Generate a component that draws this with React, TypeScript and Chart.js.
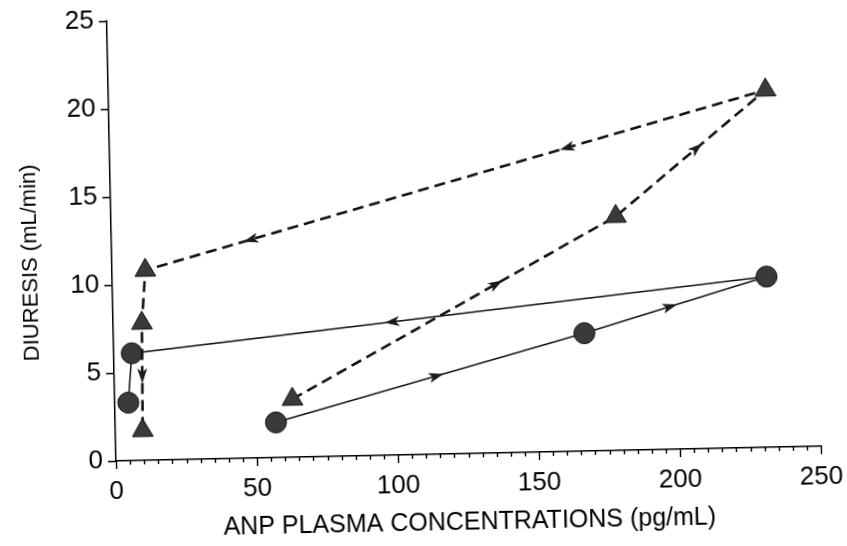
import React, { useEffect, useRef } from 'react';
import { Chart, registerables } from 'chart.js';

Chart.register(...registerables);

// ANP plasma concentration (pg/mL) and diuresis (mL/min)
const TRI_ANP = [63, 179, 233, 11.8, 10.2, 9.7];
const TRI_DIURESIS = [3.3, 13.3, 20.3, 10.8, 7.8, 1.7];
const CIRCLE_ANP = [57, 167, 232, 6.4, 4.8];
const CIRCLE_DIURESIS = [2.0, 6.7, 9.7, 6.1, 3.3];

// direction arrows: [segment index, fraction along segment]
const TRI_ARROWS = [[0, 0.63], [1, 0.54], [2, 0.32], [2, 0.83], [4, 0.49]];
const CIRCLE_ARROWS = [[0, 0.52], [1, 0.47], [2, 0.59]];

const X_MIN = 0;
const X_MAX = 250;
const X_STEP = 50;
const X_MINOR = 5;
const Y_MIN = 0;
const Y_MAX = 25;
const Y_STEP = 5;

const X_TITLE = 'ANP PLASMA CONCENTRATIONS (pg/mL)';
const Y_TITLE = 'DIURESIS (mL/min)';

const FONT = "'Liberation Sans', Arial, Helvetica, sans-serif";

const ARROWS_BY_DATASET = [TRI_ARROWS, CIRCLE_ARROWS];

const arrowPlugin = {
  id: 'dirArrows',
  afterDatasetsDraw(chart: any) {
    const ctx = chart.ctx;
    ctx.save();
    ctx.fillStyle = '#1a1a1a';
    ctx.strokeStyle = '#1a1a1a';
    ctx.lineWidth = 1;
    ARROWS_BY_DATASET.forEach((list, di) => {
      const meta = chart.getDatasetMeta(di);
      list.forEach(([s, t]) => {
        const a = meta.data[s];
        const b = meta.data[s + 1];
        if (!a || !b) return;
        const px = a.x + (b.x - a.x) * t;
        const py = a.y + (b.y - a.y) * t;
        const ang = Math.atan2(b.y - a.y, b.x - a.x);
        ctx.save();
        ctx.translate(px, py);
        ctx.rotate(ang);
        ctx.beginPath();
        ctx.moveTo(6, 0);
        ctx.lineTo(-6, -4);
        ctx.lineTo(-3, 0);
        ctx.lineTo(-6, 4);
        ctx.closePath();
        ctx.fill();
        ctx.stroke();
        ctx.restore();
      });
    });
    ctx.restore();
  },
};

const axisDecorPlugin = {
  id: 'axisDecor',
  afterDraw(chart: any) {
    const ctx = chart.ctx;
    const xs = chart.scales.x;
    const ys = chart.scales.y;
    ctx.save();
    ctx.strokeStyle = '#000';
    ctx.lineWidth = 1.4;
    ctx.beginPath();
    for (let v = X_MIN; v <= X_MAX; v += X_MINOR) {
      const px = Math.round(xs.getPixelForValue(v)) + 0.5;
      const len = v % X_STEP === 0 ? 8 : 4;
      ctx.moveTo(px, ys.bottom);
      ctx.lineTo(px, ys.bottom + len);
    }
    for (let v = Y_MIN; v <= Y_MAX; v += Y_STEP) {
      const py = Math.round(ys.getPixelForValue(v)) + 0.5;
      ctx.moveTo(xs.left - 8, py);
      ctx.lineTo(xs.left, py);
    }
    ctx.stroke();
    // vertical axis title
    ctx.fillStyle = '#000';
    ctx.font = `22px ${FONT}`;
    ctx.textAlign = 'center';
    ctx.textBaseline = 'middle';
    ctx.translate(35, 261);
    ctx.rotate(-Math.PI / 2);
    ctx.fillText(Y_TITLE, 0, 0);
    ctx.restore();
  },
};

export default function App() {
  const ref = useRef<HTMLCanvasElement>(null);

  useEffect(() => {
    if (!ref.current) return;
    Chart.defaults.color = '#000';
    Chart.defaults.font.family = FONT;
    const triData = TRI_ANP.map((x, i) => ({ x, y: TRI_DIURESIS[i] }));
    const circleData = CIRCLE_ANP.map((x, i) => ({ x, y: CIRCLE_DIURESIS[i] }));
    const hiddenTicks = (len: number) => ({
      display: true,
      drawOnChartArea: false,
      drawTicks: true,
      tickLength: len,
      tickColor: 'rgba(0,0,0,0)',
      color: 'rgba(0,0,0,0)',
    });
    const chart = new Chart(ref.current, {
      type: 'scatter',
      data: {
        datasets: [
          {
            label: 'Triangles',
            data: triData,
            showLine: true,
            borderColor: '#111',
            borderWidth: 2.6,
            borderDash: [11, 6],
            pointStyle: 'triangle',
            pointRadius: 12,
            pointBorderWidth: 1,
            pointBorderColor: '#111',
            pointBackgroundColor: '#3a3a3a',
            clip: false,
          },
          {
            label: 'Circles',
            data: circleData,
            showLine: true,
            borderColor: '#111',
            borderWidth: 1.5,
            pointStyle: 'circle',
            pointRadius: 10.5,
            pointBorderWidth: 1,
            pointBorderColor: '#111',
            pointBackgroundColor: '#3a3a3a',
            clip: false,
          },
        ],
      },
      options: {
        animation: false,
        responsive: false,
        devicePixelRatio: 1,
        layout: { padding: { top: 21, right: 26, bottom: 0, left: 0 } },
        plugins: {
          legend: { display: false },
          tooltip: { enabled: false },
        },
        scales: {
          x: {
            type: 'linear',
            min: X_MIN,
            max: X_MAX,
            afterFit: (s: any) => {
              s.height = 85;
            },
            grid: hiddenTicks(15),
            border: { display: true, color: '#000', width: 1.5 },
            ticks: { stepSize: X_STEP, padding: 0, color: '#000', font: { size: 26 } },
            title: {
              display: true,
              text: X_TITLE,
              color: '#000',
              font: { size: 25 },
              padding: { top: 0, bottom: 1 },
            },
          },
          y: {
            type: 'linear',
            min: Y_MIN,
            max: Y_MAX,
            afterFit: (s: any) => {
              s.width = 116;
            },
            grid: hiddenTicks(13),
            border: { display: true, color: '#000', width: 1.5 },
            ticks: { stepSize: Y_STEP, padding: 0, color: '#000', font: { size: 26 } },
          },
        },
      },
      plugins: [arrowPlugin, axisDecorPlugin],
    } as any);
    return () => chart.destroy();
  }, []);

  return (
    <div
      style={{
        position: 'fixed',
        left: 0,
        top: 0,
        width: 847,
        height: 546,
        overflow: 'hidden',
        background: '#fff',
      }}
    >
      <canvas
        ref={ref}
        width={847}
        height={546}
        style={{
          display: 'block',
          width: 847,
          height: 546,
          transform: 'rotate(-1.2deg)',
          transformOrigin: '116px 461px',
        }}
      />
    </div>
  );
}
